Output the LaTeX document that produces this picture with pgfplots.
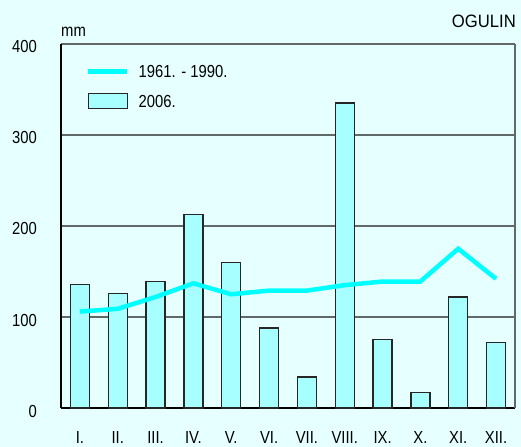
\documentclass[border=0pt]{standalone}
\usepackage{fontspec}
\setmainfont{Liberation Sans}[FakeStretch=0.85]
\newfontfamily\ogfont{Liberation Sans}[FakeStretch=0.93]
\usepackage{pgfplots}
\pgfplotsset{compat=1.18}
\definecolor{bgc}{RGB}{230,255,255}
\definecolor{barc}{RGB}{168,255,255}
\definecolor{linec}{RGB}{0,255,255}
\definecolor{gridc}{RGB}{96,104,104}
\pgfplotsset{
  barleg/.style={legend image code/.code={\draw[##1] (0bp,-1bp) rectangle (39bp,14bp);}},
  lineleg/.style={legend image code/.code={\draw[##1] (0bp,6bp) -- (39bp,6bp);}},
}
\begin{document}
\begin{tikzpicture}
\fill[bgc] (-61bp,-39bp) rectangle (460bp,408bp);
\useasboundingbox (-61bp,-39bp) rectangle (460bp,408bp);
\begin{axis}[
  scale only axis,
  width=454bp, height=364bp,
  xmin=0.5, xmax=12.5,
  ymin=0, ymax=400,
  axis lines=left,
  axis line style={-, black, line width=1.3bp},
  xtick={1,...,12},
  xticklabels={I.,II.,III.,IV.,V.,VI.,VII.,VIII.,IX.,X.,XI.,XII.},
  ytick={0,100,200,300,400},
  extra x ticks={12.5},
  extra x tick labels={},
  extra x tick style={grid=major},
  major tick length=0pt,
  tick style={draw=none},
  ymajorgrids,
  grid style={gridc, line width=1.3bp},
  font=\fontsize{17.5}{21}\selectfont,
  ticklabel style={font=\fontsize{17.5}{21}\selectfont},
  /pgf/number format/assume math mode=true,
  yticklabel style={anchor=base east, inner sep=0pt, xshift=-24bp, yshift=-9bp},
  xticklabel style={anchor=base, inner sep=0pt, yshift=-35bp},
  legend style={draw=none, fill=none, at={(axis description cs:0.0485,0.948)}, anchor=north west,
    nodes={inner sep=0pt, anchor=base west},
    row sep=14bp,
    /tikz/every odd column/.append style={column sep=9bp}},
  legend cell align=left,
  reverse legend,
]
\addplot[ybar, bar width=19bp, fill=barc, draw=black!85, line width=1.3bp, barleg]
  coordinates {(1,136) (2,126) (3,139) (4,213) (5,160) (6,88) (7,34) (8,335) (9,75) (10,17) (11,122) (12,72)};
\addlegendentry{2006.}
\addplot[linec, line width=4.5bp, sharp plot, lineleg]
  coordinates {(1,106) (2,109) (3,122) (4,137) (5,125) (6,129) (7,129) (8,135) (9,139) (10,139) (11,175) (12,142)};
\addlegendentry{1961. - 1990.}
\end{axis}
\node[anchor=base west, inner sep=0pt, font=\fontsize{17.5}{21}\selectfont] at (0bp,371bp) {mm};
\node[anchor=base east, inner sep=0pt, font=\ogfont\fontsize{18}{21}\selectfont] at (455bp,380bp) {OGULIN};
\end{tikzpicture}
\end{document}
